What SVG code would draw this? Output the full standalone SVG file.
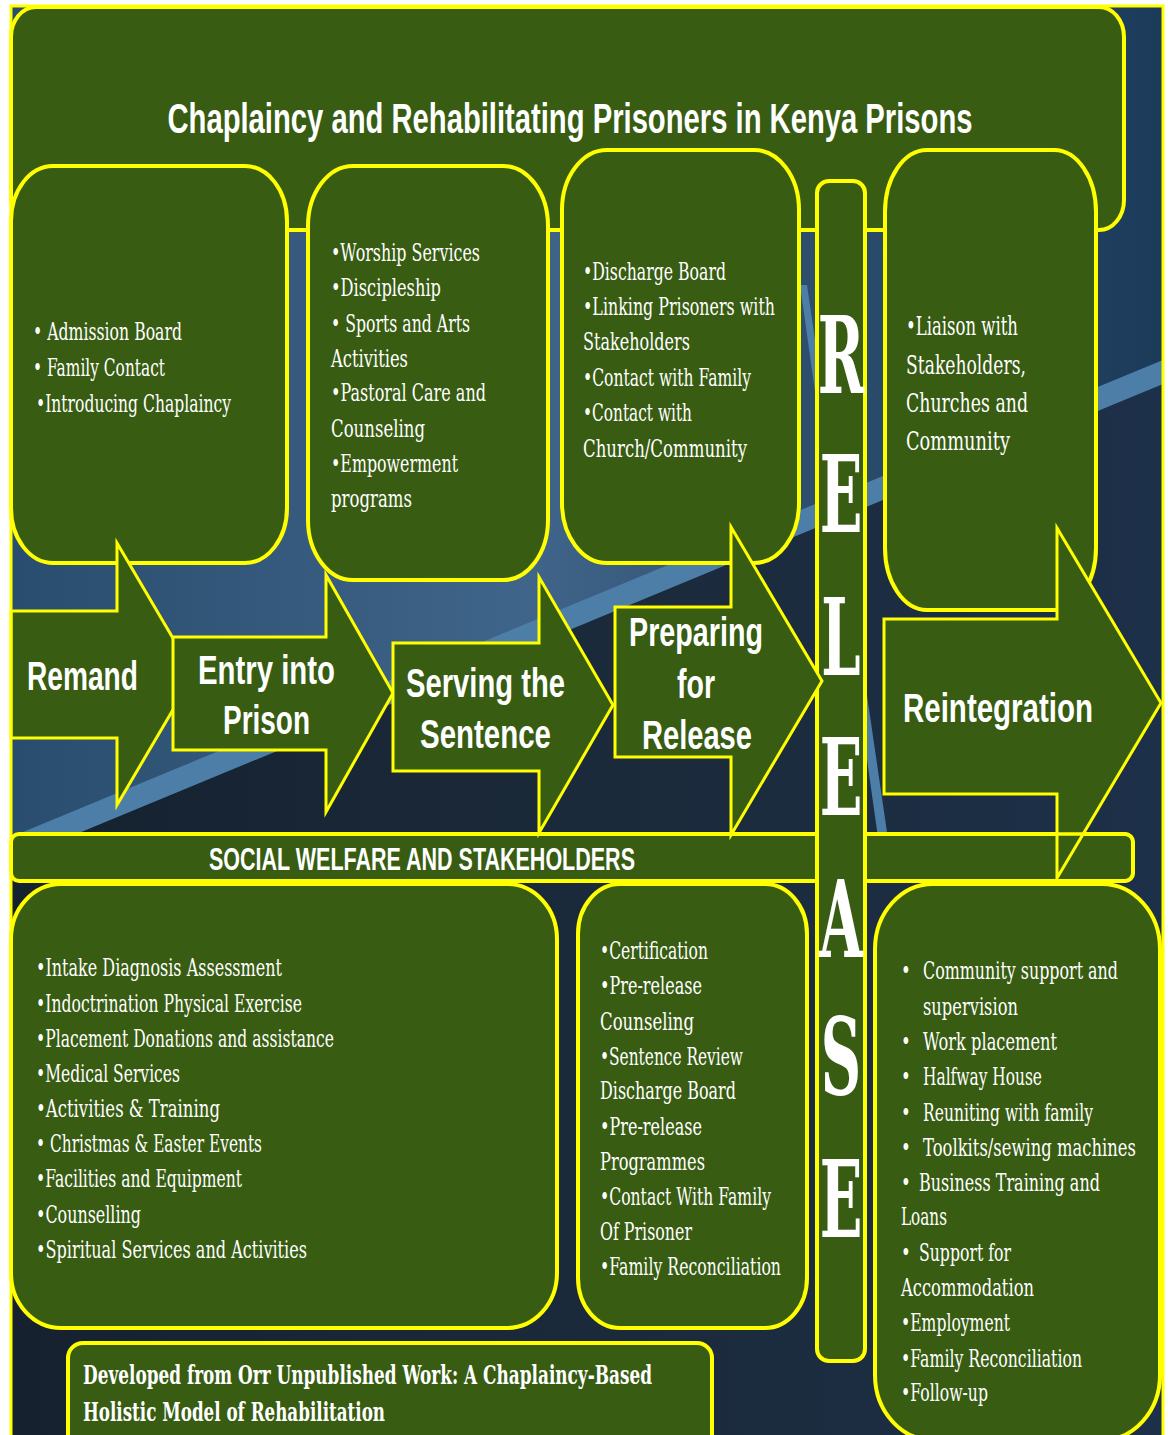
<svg xmlns="http://www.w3.org/2000/svg" width="1168" height="1435" viewBox="0 0 1168 1435">
<defs>
<linearGradient id="bgTop" x1="0" y1="0" x2="1" y2="0">
<stop offset="0" stop-color="#284d6e"/>
<stop offset="0.45" stop-color="#40658a"/>
<stop offset="0.7" stop-color="#2d4d6c"/>
<stop offset="1" stop-color="#1c3b5b"/>
</linearGradient>
<linearGradient id="bgLow" x1="0" y1="0" x2="1" y2="0">
<stop offset="0" stop-color="#15212f"/>
<stop offset="0.5" stop-color="#1b2a3a"/>
<stop offset="1" stop-color="#1d3049"/>
</linearGradient>
<style>
.box{fill:#375c12;stroke:#ffff00;stroke-width:4}
.arr{fill:#375c12;stroke:#ffff00;stroke-width:3;stroke-linejoin:miter}
.body{font-family:"DejaVu Serif","Liberation Serif",serif;font-size:16.5px;fill:#ffffff}
.bodyL{font-family:"DejaVu Serif","Liberation Serif",serif;font-size:18px;fill:#ffffff}
.stage{font-family:"Liberation Sans",Arial,sans-serif;font-weight:bold;font-size:29px;fill:#ffffff;text-anchor:middle}
.rel{font-family:"DejaVu Serif","Liberation Serif",serif;font-weight:bold;font-size:56px;fill:#ffffff;text-anchor:middle}
.cred{font-family:"DejaVu Serif","Liberation Serif",serif;font-weight:bold;font-size:17.5px;fill:#ffffff}
.head{font-family:"Liberation Sans",Arial,sans-serif;font-weight:bold;fill:#ffffff}
</style>
</defs>

<g id="background">
<rect x="0" y="0" width="1168" height="1435" fill="#ffffff"/>
<rect x="11" y="6" width="1152" height="1440" fill="url(#bgTop)"/>
<path d="M11,861 L1163,384 L1163,1435 L11,1435 Z" fill="url(#bgLow)"/>
<path d="M11,861 L1163,384 L1163,360 L11,837 Z" fill="#4d7ea8"/>
<path d="M800,285 L807,285 L894,880 L884,880 Z" fill="#4d7ea8"/>
</g>

<g id="title-box">
<rect x="11" y="7" width="1113" height="223" rx="25" ry="30" class="box" stroke-width="3.5"/>
<g transform="scale(1,1.4)">
<text class="head" x="570" y="95" font-size="30" text-anchor="middle" textLength="805" lengthAdjust="spacingAndGlyphs">Chaplaincy and Rehabilitating Prisoners in Kenya Prisons</text>
</g>
</g>

<g id="box-remand">
<rect x="11" y="166" width="276" height="397" rx="42" ry="55" class="box"/>
<g transform="scale(1,1.45)">
<text class="body" x="33" y="234.48" textLength="149" lengthAdjust="spacingAndGlyphs">• Admission Board</text>
<text class="body" x="33" y="259.31" textLength="132" lengthAdjust="spacingAndGlyphs">• Family Contact</text>
<text class="body" x="36" y="284.14" textLength="195" lengthAdjust="spacingAndGlyphs">•Introducing Chaplaincy</text>
</g>
</g>

<g id="box-serving">
<rect x="308" y="166" width="240" height="414" rx="45" ry="60" class="box"/>
<g transform="scale(1,1.45)">
<text class="body" x="331" y="180" textLength="149" lengthAdjust="spacingAndGlyphs">•Worship Services</text>
<text class="body" x="331" y="204.14" textLength="110" lengthAdjust="spacingAndGlyphs">•Discipleship</text>
<text class="body" x="331" y="228.97" textLength="139" lengthAdjust="spacingAndGlyphs">• Sports and Arts</text>
<text class="body" x="331" y="253.10" textLength="77" lengthAdjust="spacingAndGlyphs">Activities</text>
<text class="body" x="331" y="276.55" textLength="155" lengthAdjust="spacingAndGlyphs">•Pastoral Care and</text>
<text class="body" x="331" y="301.38" textLength="94" lengthAdjust="spacingAndGlyphs">Counseling</text>
<text class="body" x="331" y="325.52" textLength="127" lengthAdjust="spacingAndGlyphs">•Empowerment</text>
<text class="body" x="331" y="349.66" textLength="81" lengthAdjust="spacingAndGlyphs">programs</text>
</g>
</g>

<g id="box-preparing">
<rect x="562" y="150" width="237" height="413" rx="45" ry="60" class="box"/>
<g transform="scale(1,1.45)">
<text class="body" x="583" y="193.10" textLength="143" lengthAdjust="spacingAndGlyphs">•Discharge Board</text>
<text class="body" x="583" y="217.24" textLength="192" lengthAdjust="spacingAndGlyphs">•Linking Prisoners with</text>
<text class="body" x="583" y="241.38" textLength="107" lengthAdjust="spacingAndGlyphs">Stakeholders</text>
<text class="body" x="583" y="266.21" textLength="168" lengthAdjust="spacingAndGlyphs">•Contact with Family</text>
<text class="body" x="583" y="290.34" textLength="109" lengthAdjust="spacingAndGlyphs">•Contact with</text>
<text class="body" x="583" y="315.17" textLength="164" lengthAdjust="spacingAndGlyphs">Church/Community</text>
</g>
</g>

<g id="box-reintegration">
<rect x="885" y="150" width="211" height="460" rx="42" ry="62" class="box"/>
<g transform="scale(1,1.45)">
<text class="bodyL" x="906" y="231.03" textLength="112" lengthAdjust="spacingAndGlyphs">•Liaison with</text>
<text class="bodyL" x="906" y="257.93" textLength="120" lengthAdjust="spacingAndGlyphs">Stakeholders,</text>
<text class="bodyL" x="906" y="284.14" textLength="122" lengthAdjust="spacingAndGlyphs">Churches and</text>
<text class="bodyL" x="906" y="310.34" textLength="104" lengthAdjust="spacingAndGlyphs">Community</text>
</g>
</g>

<g id="social-welfare-bar">
<rect x="11" y="834" width="1122" height="47" rx="8" class="box" stroke-width="3.5"/>
<g transform="scale(1,1.45)">
<text class="head" x="422" y="600" font-size="21" text-anchor="middle" textLength="426" lengthAdjust="spacingAndGlyphs">SOCIAL WELFARE AND STAKEHOLDERS</text>
</g>
</g>

<g id="box-welfare-left">
<rect x="11" y="884" width="546" height="444" rx="50" ry="55" class="box"/>
<g transform="scale(1,1.45)">
<text class="body" x="36" y="673.10" textLength="246" lengthAdjust="spacingAndGlyphs">•Intake Diagnosis Assessment</text>
<text class="body" x="36" y="697.93" textLength="266" lengthAdjust="spacingAndGlyphs">•Indoctrination Physical Exercise</text>
<text class="body" x="36" y="722.07" textLength="298" lengthAdjust="spacingAndGlyphs">•Placement Donations and assistance</text>
<text class="body" x="36" y="746.21" textLength="144" lengthAdjust="spacingAndGlyphs">•Medical Services</text>
<text class="body" x="36" y="770.34" textLength="184" lengthAdjust="spacingAndGlyphs">•Activities &amp; Training</text>
<text class="body" x="36" y="794.48" textLength="226" lengthAdjust="spacingAndGlyphs">• Christmas &amp; Easter Events</text>
<text class="body" x="36" y="818.62" textLength="206" lengthAdjust="spacingAndGlyphs">•Facilities and Equipment</text>
<text class="body" x="36" y="843.45" textLength="105" lengthAdjust="spacingAndGlyphs">•Counselling</text>
<text class="body" x="36" y="867.59" textLength="271" lengthAdjust="spacingAndGlyphs">•Spiritual Services and Activities</text>
</g>
</g>

<g id="box-welfare-middle">
<rect x="578" y="884" width="229" height="444" rx="42" ry="50" class="box"/>
<g transform="scale(1,1.45)">
<text class="body" x="600" y="661.38" textLength="108" lengthAdjust="spacingAndGlyphs">•Certification</text>
<text class="body" x="600" y="685.52" textLength="102" lengthAdjust="spacingAndGlyphs">•Pre-release</text>
<text class="body" x="600" y="710.34" textLength="94" lengthAdjust="spacingAndGlyphs">Counseling</text>
<text class="body" x="600" y="734.48" textLength="143" lengthAdjust="spacingAndGlyphs">•Sentence Review</text>
<text class="body" x="600" y="757.93" textLength="136" lengthAdjust="spacingAndGlyphs">Discharge Board</text>
<text class="body" x="600" y="782.76" textLength="102" lengthAdjust="spacingAndGlyphs">•Pre-release</text>
<text class="body" x="600" y="806.90" textLength="105" lengthAdjust="spacingAndGlyphs">Programmes</text>
<text class="body" x="600" y="831.03" textLength="171" lengthAdjust="spacingAndGlyphs">•Contact With Family</text>
<text class="body" x="600" y="855.17" textLength="92" lengthAdjust="spacingAndGlyphs">Of Prisoner</text>
<text class="body" x="600" y="879.31" textLength="181" lengthAdjust="spacingAndGlyphs">•Family Reconciliation</text>
</g>
</g>

<g id="box-welfare-right">
<rect x="875" y="884" width="285" height="556" rx="58" ry="65" class="box"/>
<g transform="scale(1,1.45)">
<text class="body" x="901" y="675.17">•</text>
<text class="body" x="923" y="675.17" textLength="195" lengthAdjust="spacingAndGlyphs">Community support and</text>
<text class="body" x="923" y="700" textLength="95" lengthAdjust="spacingAndGlyphs">supervision</text>
<text class="body" x="901" y="724.14">•</text>
<text class="body" x="923" y="724.14" textLength="134" lengthAdjust="spacingAndGlyphs">Work placement</text>
<text class="body" x="901" y="748.28">•</text>
<text class="body" x="923" y="748.28" textLength="119" lengthAdjust="spacingAndGlyphs">Halfway House</text>
<text class="body" x="901" y="773.10">•</text>
<text class="body" x="923" y="773.10" textLength="170" lengthAdjust="spacingAndGlyphs">Reuniting with family</text>
<text class="body" x="901" y="797.24">•</text>
<text class="body" x="923" y="797.24" textLength="213" lengthAdjust="spacingAndGlyphs">Toolkits/sewing machines</text>
<text class="body" x="901" y="821.38">•</text>
<text class="body" x="919" y="821.38" textLength="181" lengthAdjust="spacingAndGlyphs">Business Training and</text>
<text class="body" x="901" y="844.83" textLength="46" lengthAdjust="spacingAndGlyphs">Loans</text>
<text class="body" x="901" y="869.66">•</text>
<text class="body" x="919" y="869.66" textLength="92" lengthAdjust="spacingAndGlyphs">Support for</text>
<text class="body" x="901" y="893.79" textLength="133" lengthAdjust="spacingAndGlyphs">Accommodation</text>
<text class="body" x="901" y="917.93" textLength="109" lengthAdjust="spacingAndGlyphs">•Employment</text>
<text class="body" x="901" y="942.76" textLength="181" lengthAdjust="spacingAndGlyphs">•Family Reconciliation</text>
<text class="body" x="901" y="966.21" textLength="87" lengthAdjust="spacingAndGlyphs">•Follow-up</text>
</g>
</g>

<g id="release-column">
<rect x="817" y="181" width="48" height="1180" rx="12" ry="12" class="box" stroke-width="3.5"/>
<text class="rel" transform="translate(841,393) scale(1,1.9)">R</text>
<text class="rel" transform="translate(841,532) scale(1,1.9)">E</text>
<text class="rel" transform="translate(841,675) scale(1,1.9)">L</text>
<text class="rel" transform="translate(841,815) scale(1,1.9)">E</text>
<text class="rel" transform="translate(841,957) scale(1,1.9)">A</text>
<text class="rel" transform="translate(841,1094) scale(1,1.9)">S</text>
<text class="rel" transform="translate(841,1237) scale(1,1.9)">E</text>
</g>

<g id="arrow-remand">
<path class="arr" d="M11,611 H117 V543 L194,674 L117,805 V738 H11 Z"/>
<g transform="scale(1,1.42)">
<text class="stage" x="82.5" y="485.92" textLength="111" lengthAdjust="spacingAndGlyphs">Remand</text>
</g>
</g>

<g id="arrow-entry">
<path class="arr" d="M173,637 H326 V575 L393,693 L326,812 V750 H173 Z"/>
<g transform="scale(1,1.42)">
<text class="stage" x="266.5" y="481.69" textLength="137" lengthAdjust="spacingAndGlyphs">Entry into</text>
<text class="stage" x="266.5" y="516.90" textLength="87" lengthAdjust="spacingAndGlyphs">Prison</text>
</g>
</g>

<g id="arrow-serving">
<path class="arr" d="M393,643 H539 V577 L613,705 L539,833 V771 H393 Z"/>
<g transform="scale(1,1.42)">
<text class="stage" x="485.5" y="490.85" textLength="159" lengthAdjust="spacingAndGlyphs">Serving the</text>
<text class="stage" x="485.5" y="526.76" textLength="131" lengthAdjust="spacingAndGlyphs">Sentence</text>
</g>
</g>

<g id="arrow-preparing">
<path class="arr" d="M615,607 H731 V527 L822,681 L731,835 V757 H615 Z"/>
<g transform="scale(1,1.42)">
<text class="stage" x="696" y="454.93" textLength="134" lengthAdjust="spacingAndGlyphs">Preparing</text>
<text class="stage" x="696" y="491.55" textLength="38" lengthAdjust="spacingAndGlyphs">for</text>
<text class="stage" x="697" y="527.46" textLength="110" lengthAdjust="spacingAndGlyphs">Release</text>
</g>
</g>

<g id="arrow-reintegration">
<path class="arr" d="M884,619 H1057 V528 L1161,703 L1057,878 V794 H884 Z"/>
<g transform="scale(1,1.42)">
<text class="stage" x="998" y="508.45" textLength="190" lengthAdjust="spacingAndGlyphs">Reintegration</text>
</g>
<path d="M1057,834 H1125 A8,8 0 0 1 1133,842 V873 A8,8 0 0 1 1125,881 H1057" fill="none" stroke="#ffff00" stroke-width="3.5"/>
</g>

<g id="connectors"/>

<g id="credit-box">
<rect x="68" y="1343" width="644" height="110" rx="15" ry="15" class="box"/>
<g transform="scale(1,1.45)">
<text class="cred" x="83" y="954.48" textLength="569" lengthAdjust="spacingAndGlyphs">Developed from Orr Unpublished Work: A Chaplaincy-Based</text>
<text class="cred" x="83" y="980" textLength="302" lengthAdjust="spacingAndGlyphs">Holistic Model of Rehabilitation</text>
</g>
</g>

<g id="frame">
<rect x="11" y="6" width="1152" height="1440" fill="none" stroke="#ffff00" stroke-width="3"/>
</g>
</svg>
